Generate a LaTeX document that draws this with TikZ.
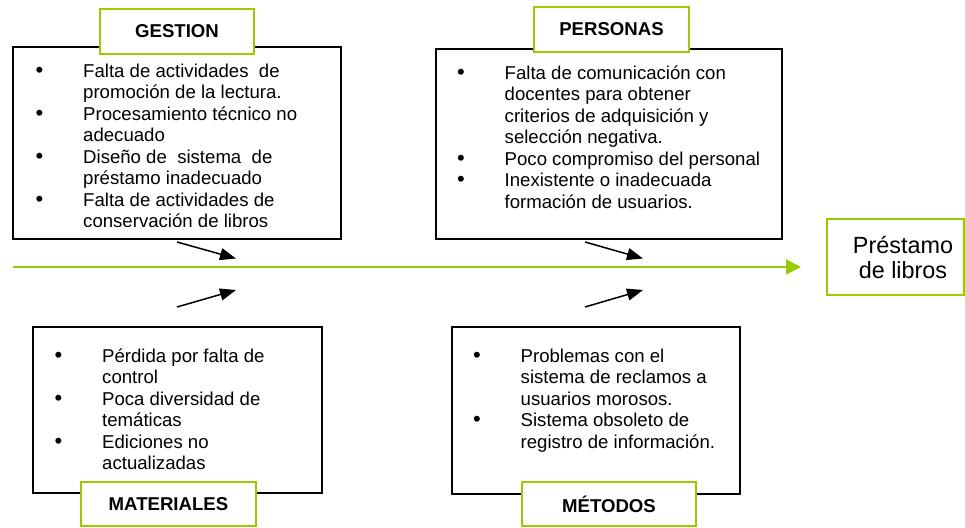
\documentclass[tikz,border=0pt]{standalone}
\usepackage{fontspec}
\setmainfont{Liberation Sans}
\usetikzlibrary{arrows.meta}
\definecolor{lgreen}{RGB}{153,204,0}
\tikzset{
  blackbox/.style={draw=black, line width=2pt, fill=white, inner sep=0pt},
  greenbox/.style={draw=lgreen, line width=2pt, fill=white, inner sep=0pt, font=\fontsize{18.6}{21.5}\selectfont\bfseries},
  listtext/.style={anchor=base west, inner sep=0pt, font=\fontsize{18.6}{21.5}\selectfont},
  cause/.style={line width=1.5pt, -{Triangle[length=16pt,width=12pt]}},
  spine/.style={draw=lgreen, line width=2pt, -{Triangle[length=15pt,width=15pt]}, color=lgreen}
}
\newcommand{\bl}{\hspace*{-0.6pt}{\fontsize{22}{21.5}\selectfont\textbullet}}
\newenvironment{blist}{\begin{tabular}[t]{@{}p{47pt}@{}l@{}}}{\end{tabular}}
\begin{document}
\begin{tikzpicture}[x=1pt,y=-1pt]
\useasboundingbox (0,0) rectangle (965,527);
% boxes
\node[blackbox, minimum width=328pt, minimum height=192pt] (gbox) at (177,143) {};
\node[blackbox, minimum width=346pt, minimum height=190pt] (pbox) at (609,144) {};
\node[blackbox, minimum width=289pt, minimum height=166pt] (mbox) at (177.5,410) {};
\node[blackbox, minimum width=288pt, minimum height=167pt] (tbox) at (596,410.5) {};
% texts
\begin{scope}
\clip (13,47) rectangle (341,226.5);
\node[listtext] (gtext) at (36,77.3) {\begin{blist}
\bl & Falta de actividades~ de\\
 & promoción de la lectura.\\
\bl & Procesamiento técnico no\\
 & adecuado\\
\bl & Diseño de~ sistema~ de\\
 & préstamo inadecuado\\
\bl & Falta de actividades de\\
 & conservación de libros
\end{blist}};
\end{scope}
\node[listtext] (ptext) at (457.5,79) {\begin{blist}
\bl & Falta de comunicación con\\
 & docentes para obtener\\
 & criterios de adquisición y\\
 & selección negativa.\\
\bl & Poco compromiso del personal\\
\bl & Inexistente o inadecuada\\
 & formación de usuarios.
\end{blist}};
\node[listtext] (mtext) at (55,362) {\begin{blist}
\bl & Pérdida por falta de\\
 & control\\
\bl & Poca diversidad de\\
 & temáticas\\
\bl & Ediciones no\\
 & actualizadas
\end{blist}};
\node[listtext] (ttext) at (473.5,362) {\begin{blist}
\bl & Problemas con el\\
 & sistema de reclamos a\\
 & usuarios morosos.\\
\bl & Sistema obsoleto de\\
 & registro de información.
\end{blist}};
% labels
\node[greenbox, minimum width=154pt, minimum height=45pt] (glabel) at (177,31.5) {GESTION};
\node[greenbox, minimum width=155pt, minimum height=45pt] (plabel) at (611.5,29.5) {PERSONAS};
\node[greenbox, minimum width=175pt, minimum height=44pt] (mlabel) at (168.5,504) {MATERIALES};
\node[greenbox, minimum width=174pt, minimum height=44pt] (tlabel) at (609,504) {MÉTODOS};
\node[draw=lgreen, line width=2pt, fill=white, minimum width=137pt, minimum height=76pt, inner sep=0pt, align=center, font=\fontsize{23.4}{25}\selectfont] (effect) at (895,257) {\hspace*{16pt}Préstamo\\\hspace*{16pt}de libros};
% spine
\coordinate (s0) at (13,267);
\coordinate (s1) at (801,267);
\draw[spine] (s0) -- (s1);
% cause arrows
\coordinate (a1s) at (177,242); \coordinate (a1e) at (236,258.5);
\coordinate (a2s) at (177,307); \coordinate (a2e) at (236,290);
\coordinate (a3s) at (585,242); \coordinate (a3e) at (643,258.5);
\coordinate (a4s) at (585,307); \coordinate (a4e) at (643,290);
\draw[cause] (a1s) -- (a1e);
\draw[cause] (a2s) -- (a2e);
\draw[cause] (a3s) -- (a3e);
\draw[cause] (a4s) -- (a4e);
\end{tikzpicture}
\end{document}
